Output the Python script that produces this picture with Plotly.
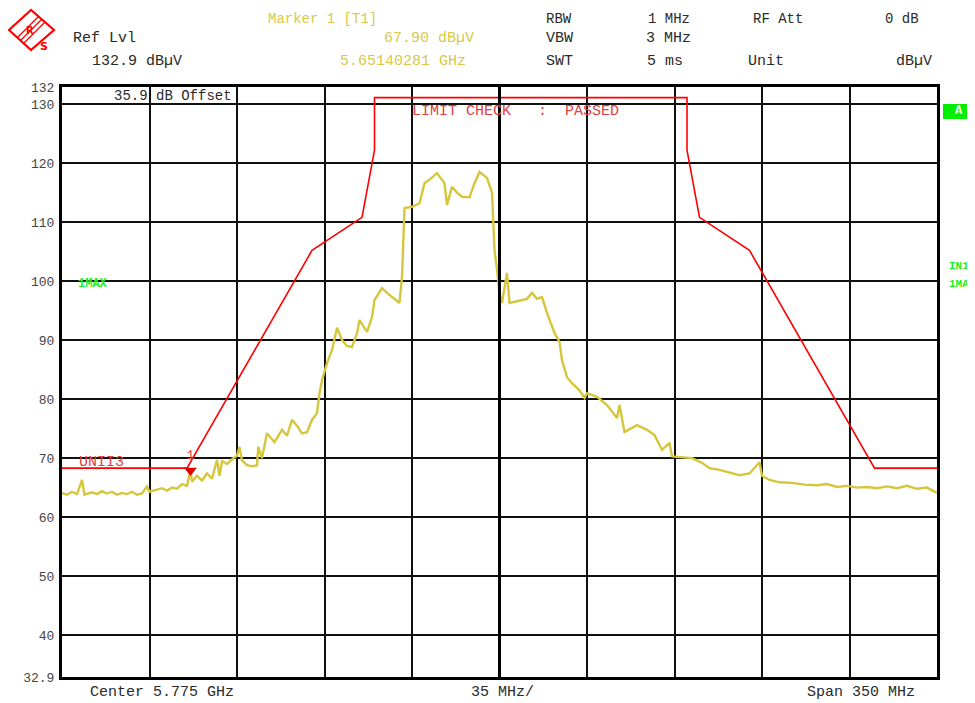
import plotly.graph_objects as go

# ---------------- data ----------------
freq_mhz = [5600, 5602, 5604, 5606, 5608, 5609, 5612, 5614, 5616, 5618, 5620, 5622, 5624, 5626,
            5628, 5630, 5632, 5634, 5635, 5638, 5640, 5642, 5644, 5646, 5648, 5650, 5651.4, 5652,
            5654, 5656, 5658, 5660, 5662, 5663, 5664, 5666, 5668, 5670, 5671, 5672, 5674, 5676,
            5678, 5678.5, 5680, 5682, 5685, 5688, 5690, 5692, 5694, 5696, 5698, 5700, 5702, 5703,
            5704, 5706, 5708, 5710, 5712, 5714, 5716, 5718, 5719, 5722, 5724, 5725, 5728, 5730,
            5732, 5735, 5736, 5737, 5740, 5743, 5745, 5747, 5750, 5753, 5754, 5756, 5758, 5760,
            5763, 5765, 5767, 5770, 5772, 5773, 5774, 5775, 5776, 5778, 5779, 5781, 5783, 5786,
            5788, 5790, 5792, 5794, 5797, 5799, 5800, 5802, 5804, 5807, 5809, 5810, 5814, 5818,
            5822, 5823, 5825, 5828, 5830, 5834, 5837, 5840, 5843, 5844, 5848, 5852, 5856, 5859,
            5863, 5867, 5871, 5875, 5879, 5880, 5883, 5887, 5892, 5897, 5902, 5906, 5910, 5914,
            5918, 5922, 5926, 5930, 5934, 5938, 5942, 5946, 5948, 5950]
level_dbuv = [64.1, 63.8, 64.3, 63.9, 66.3, 63.8, 64.2, 63.9, 64.4, 64.0, 64.3, 63.8, 64.1, 63.9,
              64.3, 63.8, 64.0, 65.2, 64.3, 64.6, 64.9, 64.5, 65.0, 64.8, 65.6, 65.3, 67.9, 66.0,
              67.0, 66.2, 67.4, 66.5, 69.7, 67.0, 69.5, 69.0, 69.8, 70.4, 71.9, 69.6, 68.8, 68.6,
              68.8, 71.9, 70.0, 74.2, 72.7, 74.8, 73.8, 76.5, 75.5, 74.2, 74.4, 76.5, 77.6, 81.0,
              83.2, 86.1, 88.3, 92.1, 90.0, 89.0, 88.8, 91.2, 93.4, 91.4, 93.9, 96.8, 98.8, 98.0,
              97.3, 96.3, 100.7, 112.4, 112.6, 113.2, 116.6, 117.2, 118.3, 116.6, 112.9, 116.0, 115.0, 114.3,
              114.2, 116.6, 118.5, 117.5, 115.0, 105.3, 101.9, 98.0, 96.3, 101.4, 96.3, 96.5, 96.8, 97.0,
              98.0, 97.0, 97.3, 94.6, 91.2, 89.7, 86.6, 83.7, 82.7, 81.5, 80.2, 81.0, 80.4, 79.0,
              76.8, 79.0, 74.4, 75.2, 75.6, 74.8, 73.9, 71.4, 72.6, 70.3, 70.2, 70.0, 69.2, 68.3,
              68.0, 67.6, 67.1, 67.4, 69.3, 67.0, 66.3, 65.9, 65.8, 65.5, 65.4, 65.6, 65.1, 65.3,
              65.0, 65.1, 64.9, 65.2, 64.9, 65.3, 64.8, 65.0, 64.6, 64.1]

limit_freq_mhz = [5600, 5650, 5700, 5720, 5725, 5725, 5850, 5850, 5855, 5875, 5925, 5950]
limit_dbuv = [68.3, 68.3, 105.2, 110.8, 122.2, 131.1, 131.1, 122.2, 110.8, 105.2, 68.3, 68.3]

marker_freq_mhz = 5651.40281
marker_level = 67.90

center_mhz = 5775
span_mhz = 350
div_mhz = 35
y_min, y_max = 32.9, 132.9
y_tickvals = [32.9, 40, 50, 60, 70, 80, 90, 100, 110, 120, 130, 132.9]
y_ticktext = ["32.9", "40", "50", "60", "70", "80", "90", "100", "110", "120", "130", "132"]

# ---------------- layout helpers ----------------
# the page body has an 8px margin, so the figure is made 8px smaller
PAGE_OFF = 8
W, H = 975 - PAGE_OFF, 703 - PAGE_OFF
L, R, T, B = 62, 937, 87, 677          # plot area in window pixels
def px(x):
    return (x - L) / (R - L)
def py(y):
    return (B - y) / (B - T)

MONO = "Liberation Mono"
BLACK = "#2a2a2a"
YEL = "#d9c84a"
RED = "#ff0000"
RTXT = "#e04040"
GRN = "#22ee22"
TRACE = "#d6c63c"

fig = go.Figure()
fig.add_trace(go.Scatter(x=limit_freq_mhz, y=limit_dbuv, mode="lines",
                         line=dict(color=RED, width=1.6), hoverinfo="skip"))
fig.add_trace(go.Scatter(x=freq_mhz, y=level_dbuv, mode="lines",
                         line=dict(color=TRACE, width=2.4), hoverinfo="skip"))
fig.add_trace(go.Scatter(x=[marker_freq_mhz], y=[marker_level], mode="markers+text",
                         marker=dict(symbol="triangle-down", size=11, color="#dd0000"),
                         text=["1"], textposition="top center",
                         textfont=dict(family=MONO, size=13, color=RTXT), hoverinfo="skip"))

fig.update_layout(
    width=W, height=H, showlegend=False,
    margin=dict(l=L - PAGE_OFF, r=975 - R, t=T - PAGE_OFF, b=703 - B),
    paper_bgcolor="white", plot_bgcolor="white",
    xaxis=dict(range=[center_mhz - span_mhz / 2, center_mhz + span_mhz / 2],
               tick0=center_mhz - span_mhz / 2, dtick=div_mhz, showticklabels=False,
               showgrid=True, gridcolor="#111", gridwidth=1.6, zeroline=False,
               showline=True, linecolor="#000", linewidth=3, mirror=True, ticks=""),
    yaxis=dict(range=[y_min, y_max], tickvals=y_tickvals, ticktext=y_ticktext,
               showgrid=True, gridcolor="#111", gridwidth=1.6, zeroline=False,
               showline=True, linecolor="#000", linewidth=3, mirror=True, ticks="",
               ticklabelstandoff=2,
               tickfont=dict(family=MONO, size=13, color="#444")),
)

# centre division line (thicker)
fig.add_shape(type="line", xref="x", yref="paper", x0=center_mhz, x1=center_mhz, y0=0, y1=1,
              line=dict(color="#000", width=3))

def txt(s, x0, x1, y, color=BLACK, size=15, bold=False, top=False):
    fig.add_annotation(text=("<b>%s</b>" % s) if bold else s, xref="paper", yref="paper",
                       x=px((x0 + x1) / 2), y=py(y), xanchor="center",
                       yanchor="top" if top else "middle",
                       showarrow=False, font=dict(family=MONO, size=size, color=color))

# header (top row anchored at the very top of the figure)
TOP = PAGE_OFF + 0.5
txt("Ref Lvl", 62, 147, 38)
txt("132.9 dBµV", 76, 197, 61)
txt("Marker 1 [T1]", 244, 400, TOP, YEL, 14, top=True)
txt("67.90 dBµV", 369, 488, 38, YEL)
txt("5.65140281 GHz", 318, 488, 61, YEL)
txt("RBW", 541, 577, TOP, size=14, top=True)
txt("1 MHz", 640, 697, TOP, size=14, top=True)
txt("RF Att", 742, 814, TOP, size=14, top=True)
txt("0 dB", 878, 925, TOP, size=14, top=True)
txt("VBW", 541, 577, 38)
txt("3 MHz", 640, 697, 38)
txt("SWT", 541, 577, 61)
txt("5 ms", 640, 690, 61)
txt("Unit", 742, 790, 61)
txt("dBµV", 890, 937, 61)

# inside plot
txt("35.9 dB Offset", 88, 257, 96, size=14)
txt("LIMIT CHECK   :  PASSED", 387, 643, 111, RTXT)
txt("UNII3", 72, 130, 463, RTXT)
txt("1MAX", 72, 113, 284, GRN, 12, True)

# right side
fig.add_shape(type="rect", xref="paper", yref="paper", x0=px(943), x1=px(975), y0=py(119), y1=py(104),
              fillcolor="#00ee00", line=dict(width=0))
txt("A", 943, 975, 111.5, "white", 12, True)
txt("IN1", 945, 973, 266, GRN, 11, True)
txt("1MA", 945, 973, 284, GRN, 11, True)

# bottom
txt("Center 5.775 GHz", 65, 258, 692)
txt("35 MHz/", 460, 545, 692)
txt("Span 350 MHz", 789, 933, 692)

# logo
def path(pts):
    return "M " + " L ".join("%f,%f" % (px(a), py(b)) for a, b in pts) + " Z"
fig.add_shape(type="path", xref="paper", yref="paper",
              path=path([(9, 30), (31, 10), (54, 30), (31, 50)]),
              line=dict(color=RED, width=2.2), fillcolor="rgba(0,0,0,0)")
for d in (-3, 0, 3):
    fig.add_shape(type="line", xref="paper", yref="paper",
                  x0=px(20 + d), y0=py(41 + d), x1=px(42 + d), y1=py(19 + d),
                  line=dict(color=RED, width=1.3))
fig.add_annotation(text="<b>R</b>", xref="paper", yref="paper", x=px(24), y=py(23),
                   showarrow=False, font=dict(family="DejaVu Sans", size=10, color=RED))
fig.add_annotation(text="<b>S</b>", xref="paper", yref="paper", x=px(38), y=py(38),
                   showarrow=False, font=dict(family="DejaVu Sans", size=11, color=RED))

fig.write_html("out.html")
